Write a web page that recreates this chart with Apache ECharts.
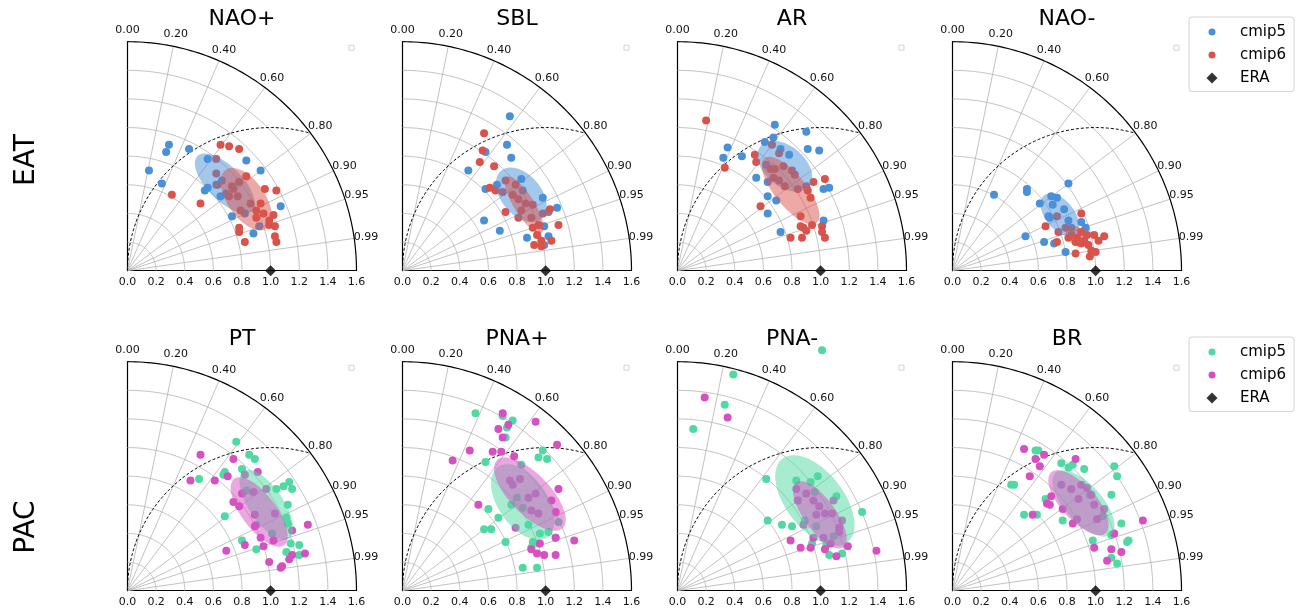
<!DOCTYPE html>
<html><head><meta charset="utf-8">
<script src="https://cdn.jsdelivr.net/npm/echarts@6/dist/echarts.min.js"></script>
<style>html,body{margin:0;padding:0;background:#fff}#c{width:1298px;height:611px}</style>
</head><body><div id="c"></div><script>
const FONT = 'DejaVu Sans';
const PANEL_TITLES = ['NAO+','SBL','AR','NAO-','PT','PNA+','PNA-','BR'];
const ROW_LABELS = ['EAT','PAC'];
const LEGEND_NAMES = ['cmip5','cmip6','ERA'];
const CORR_TICKS = [0,0.2,0.4,0.6,0.8,0.9,0.95,0.99];
const STD_TICKS = [0.2,0.4,0.6,0.8,1.0,1.2,1.4,1.6];
const STD_MAX = 1.6;
const ERA_REF = [1.0, 0.0];
const CORNER_MARK = [1.565, 1.558];

// points in the Taylor plane: [std*corr, std*sqrt(1-corr^2)]
const naoPlus_cmip5 = [[0.29,0.88],[0.27,0.83],[0.43,0.85],[0.15,0.70],[0.24,0.61],[0.56,0.78],[0.83,0.77],[0.93,0.70],[0.66,0.63],[0.62,0.60],[0.56,0.58],[0.54,0.56],[0.69,0.54],[0.65,0.52],[0.73,0.38],[1.07,0.45],[0.88,0.26],[0.92,0.31],[0.82,0.40]];
const naoPlus_cmip6 = [[0.65,0.88],[0.71,0.87],[0.78,0.85],[0.62,0.78],[0.62,0.68],[0.63,0.60],[0.31,0.53],[0.51,0.47],[0.78,0.62],[0.73,0.59],[0.74,0.57],[0.83,0.66],[0.96,0.57],[1.04,0.56],[0.71,0.52],[0.77,0.52],[0.86,0.47],[0.79,0.42],[0.93,0.47],[0.90,0.42],[0.95,0.40],[1.02,0.39],[0.99,0.35],[1.03,0.31],[0.99,0.32],[0.78,0.30],[0.78,0.27],[1.03,0.24],[1.04,0.20],[0.82,0.20],[0.90,0.37]];
const sbl_cmip5 = [[0.75,1.08],[0.73,0.88],[0.58,0.83],[0.76,0.79],[0.46,0.70],[0.83,0.64],[0.58,0.57],[0.66,0.60],[0.98,0.51],[1.08,0.44],[1.02,0.41],[0.57,0.35],[0.68,0.28],[0.87,0.23],[0.99,0.31],[1.02,0.24],[0.99,0.18],[0.84,0.56]];
const sbl_cmip6 = [[0.57,0.96],[0.56,0.84],[0.54,0.76],[0.64,0.73],[0.61,0.58],[0.65,0.56],[0.72,0.63],[0.79,0.60],[0.70,0.55],[0.77,0.53],[0.81,0.50],[0.86,0.47],[0.91,0.46],[0.83,0.42],[0.72,0.41],[0.81,0.37],[0.90,0.37],[1.03,0.43],[0.98,0.40],[1.09,0.32],[0.91,0.30],[0.95,0.32],[0.94,0.25],[0.97,0.21],[0.92,0.18],[0.97,0.17],[1.04,0.21]];
const ar_cmip5 = [[0.68,1.02],[0.90,0.97],[0.67,0.93],[0.61,0.90],[0.35,0.86],[0.32,0.79],[0.45,0.80],[0.91,0.85],[0.99,0.84],[0.78,0.81],[0.72,0.85],[0.62,0.74],[0.55,0.65],[0.63,0.62],[1.02,0.57],[1.06,0.58],[0.63,0.52],[0.69,0.49],[0.63,0.40],[0.72,0.27],[1.02,0.35]];
const ar_cmip6 = [[0.20,1.05],[0.33,0.72],[0.54,0.81],[0.55,0.76],[0.66,0.88],[0.71,0.82],[0.65,0.71],[0.68,0.71],[0.74,0.73],[0.80,0.70],[0.82,0.67],[0.67,0.65],[0.71,0.63],[0.75,0.59],[0.84,0.57],[0.90,0.59],[0.95,0.62],[1.03,0.64],[0.91,0.56],[0.93,0.51],[0.58,0.45],[0.86,0.38],[0.86,0.31],[0.90,0.28],[0.88,0.30],[0.94,0.32],[1.01,0.31],[1.01,0.27],[1.03,0.23],[0.79,0.23],[0.87,0.23]];
const naoMinus_cmip5 = [[0.29,0.53],[0.52,0.57],[0.52,0.55],[0.81,0.61],[0.69,0.52],[0.73,0.51],[0.61,0.47],[0.70,0.46],[0.78,0.43],[0.67,0.38],[0.68,0.37],[0.90,0.34],[0.81,0.35],[0.83,0.30],[0.93,0.30],[0.51,0.24],[0.64,0.20],[0.71,0.19],[0.79,0.13]];
const naoMinus_cmip6 = [[0.90,0.40],[0.73,0.38],[0.65,0.31],[0.79,0.30],[0.74,0.27],[0.73,0.20],[0.83,0.25],[0.81,0.23],[0.87,0.23],[0.90,0.27],[0.94,0.25],[0.99,0.25],[1.06,0.24],[1.02,0.21],[0.92,0.21],[0.86,0.20],[0.90,0.19],[0.95,0.18],[0.97,0.14],[1.00,0.13],[0.86,0.12],[0.96,0.10]];
const pt_cmip5 = [[0.76,1.04],[0.85,0.95],[0.89,0.92],[0.68,0.83],[0.67,0.81],[0.50,0.78],[0.80,0.85],[1.13,0.76],[1.09,0.73],[1.15,0.71],[1.04,0.71],[0.83,0.70],[1.12,0.60],[0.68,0.52],[1.11,0.51],[1.12,0.47],[0.90,0.46],[1.01,0.40],[0.80,0.35],[0.90,0.29],[1.14,0.33],[1.20,0.32],[1.11,0.27],[1.20,0.25]];
const pt_cmip6 = [[0.51,0.95],[0.74,0.92],[0.44,0.77],[0.61,0.77],[0.70,0.80],[0.91,0.83],[0.82,0.81],[0.97,0.71],[0.80,0.68],[0.88,0.69],[0.74,0.62],[0.78,0.59],[0.89,0.53],[1.03,0.54],[0.89,0.45],[1.15,0.42],[1.26,0.46],[0.93,0.37],[1.02,0.35],[0.82,0.32],[0.95,0.31],[0.69,0.28],[1.15,0.25],[1.24,0.26],[1.13,0.22],[0.99,0.20],[1.07,0.16],[1.08,0.17]];
const pnaPlus_cmip5 = [[0.51,1.24],[0.70,1.22],[0.77,1.19],[0.73,1.14],[0.72,1.07],[0.58,0.90],[0.98,0.98],[0.95,0.93],[1.01,0.92],[0.83,0.88],[0.80,0.65],[0.76,0.60],[0.84,0.58],[0.60,0.57],[0.67,0.51],[0.57,0.43],[0.62,0.43],[0.88,0.46],[1.09,0.48],[0.96,0.40],[1.02,0.41],[1.07,0.37],[0.72,0.34],[0.91,0.34],[0.95,0.33],[0.90,0.30],[0.84,0.16],[0.94,0.16]];
const pnaPlus_cmip6 = [[0.70,1.24],[0.74,1.16],[0.67,1.13],[0.70,1.07],[0.93,1.18],[1.08,1.02],[0.47,0.98],[0.63,0.97],[0.69,0.97],[0.35,0.91],[0.78,0.94],[0.75,0.77],[0.77,0.74],[0.82,0.78],[1.09,0.71],[0.93,0.68],[0.88,0.65],[1.04,0.63],[0.53,0.60],[0.90,0.56],[0.95,0.54],[1.07,0.55],[0.79,0.44],[1.20,0.35],[1.07,0.37],[0.96,0.33],[0.90,0.29],[0.94,0.26],[0.99,0.25],[1.07,0.25]];
const pnaMinus_cmip5 = [[1.01,1.68],[0.39,1.51],[0.33,1.30],[0.11,1.13],[0.62,0.78],[0.83,0.77],[0.93,0.76],[0.98,0.80],[0.96,0.69],[1.11,0.66],[1.29,0.55],[0.63,0.49],[0.73,0.46],[0.80,0.45],[0.89,0.49],[0.97,0.45],[1.09,0.38],[0.94,0.33],[1.04,0.32],[1.06,0.25],[1.15,0.26]];
const pnaMinus_cmip6 = [[0.19,1.35],[0.35,1.21],[0.83,0.71],[0.90,0.68],[0.84,0.63],[0.95,0.63],[0.99,0.59],[1.09,0.63],[1.03,0.54],[1.08,0.54],[0.97,0.53],[0.88,0.46],[1.15,0.49],[1.13,0.44],[1.13,0.41],[0.95,0.37],[1.02,0.37],[1.07,0.33],[0.79,0.35],[0.86,0.30],[0.93,0.30],[1.03,0.29],[1.11,0.24],[1.19,0.31],[1.39,0.28]];
const br_cmip5 = [[0.58,0.98],[0.60,0.98],[0.41,0.74],[0.43,0.74],[0.76,0.89],[0.81,0.86],[0.84,0.88],[0.92,0.85],[1.13,0.87],[1.15,0.80],[1.11,0.67],[0.96,0.67],[0.65,0.64],[0.50,0.53],[0.59,0.53],[0.77,0.49],[1.05,0.52],[1.18,0.47],[1.22,0.34],[1.23,0.35],[1.11,0.39],[0.98,0.35],[1.11,0.23],[1.15,0.19]];
const br_cmip6 = [[0.50,0.99],[0.58,0.92],[0.64,0.95],[0.61,0.87],[0.54,0.80],[0.86,0.92],[0.76,0.74],[0.83,0.71],[0.90,0.74],[0.94,0.72],[0.97,0.67],[0.69,0.66],[0.66,0.61],[0.68,0.60],[0.56,0.53],[0.77,0.57],[0.88,0.64],[0.99,0.60],[1.06,0.57],[1.01,0.50],[0.84,0.47],[0.87,0.50],[1.33,0.49],[1.13,0.40],[0.99,0.30],[1.11,0.29],[1.18,0.27],[1.08,0.21]];

// spread ellipses: [centre x, centre y, semi-major, semi-minor, angle deg]
const naoPlus_ell5 = [0.68,0.61,0.27,0.12,-45];
const naoPlus_ell6 = [0.83,0.50,0.25,0.13,-55];
const sbl_ell5 = [0.83,0.53,0.22,0.14,-50];
const sbl_ell6 = [0.85,0.46,0.23,0.07,-58];
const ar_ell5 = [0.75,0.73,0.22,0.14,-40];
const ar_ell6 = [0.79,0.56,0.29,0.11,-51];
const naoMinus_ell5 = [0.75,0.39,0.175,0.10,-51];
const naoMinus_ell6 = [0.87,0.24,0.09,0.06,-40];
const pt_ell5 = [0.97,0.60,0.285,0.12,-56];
const pt_ell6 = [0.92,0.55,0.29,0.12,-53];
const pnaPlus_ell5 = [0.84,0.62,0.30,0.17,-55];
const pnaPlus_ell6 = [0.89,0.675,0.33,0.14,-46];
const pnaMinus_ell5 = [0.96,0.63,0.37,0.20,-52];
const pnaMinus_ell6 = [0.995,0.53,0.28,0.11,-54];
const br_ell5 = [0.915,0.61,0.29,0.13,-48];
const br_ell6 = [0.88,0.615,0.285,0.12,-48];

const PANELS = [
  [naoPlus_cmip5, naoPlus_cmip6, naoPlus_ell5, naoPlus_ell6],
  [sbl_cmip5, sbl_cmip6, sbl_ell5, sbl_ell6],
  [ar_cmip5, ar_cmip6, ar_ell5, ar_ell6],
  [naoMinus_cmip5, naoMinus_cmip6, naoMinus_ell5, naoMinus_ell6],
  [pt_cmip5, pt_cmip6, pt_ell5, pt_ell6],
  [pnaPlus_cmip5, pnaPlus_cmip6, pnaPlus_ell5, pnaPlus_ell6],
  [pnaMinus_cmip5, pnaMinus_cmip6, pnaMinus_ell5, pnaMinus_ell6],
  [br_cmip5, br_cmip6, br_ell5, br_ell6]
];
const ROW_COLORS = [['#4a90d9','#d9534b'],['#50d9a3','#d650c1']];

const GRID_LEFT0 = 127.5, GRID_DX = 275, GRID_TOP0 = 41.7, GRID_DY = 320, GRID_SIZE = 229;
const GRAY = '#b3b3b3';

function renderFrame(params, api) {
  const children = [];
  const p0 = api.coord([0, 0]);
  STD_TICKS.forEach(r => {
    const pts = [];
    for (let k = 0; k <= 90; k++) {
      const t = Math.PI / 2 * k / 90;
      pts.push(api.coord([r * Math.cos(t), r * Math.sin(t)]));
    }
    const outer = Math.abs(r - STD_MAX) < 1e-9;
    children.push({type:'polyline', shape:{points:pts}, style:{stroke: outer ? '#000' : GRAY, lineWidth: outer ? 1.2 : 0.8, fill:null}, z2: outer ? 4 : 1});
  });
  CORR_TICKS.forEach(c => {
    const s = Math.sqrt(1 - c * c);
    const p1 = api.coord([STD_MAX * c, STD_MAX * s]);
    if (c > 0) children.push({type:'line', shape:{x1:p0[0], y1:p0[1], x2:p1[0], y2:p1[1]}, style:{stroke:GRAY, lineWidth:0.8}, z2:1});
    children.push({type:'text', z2:6, style:{text:c.toFixed(2), x:p1[0] + 12 * c, y:p1[1] - 12 * s, fill:'#111', fontSize:11, fontFamily:FONT, align:'center', verticalAlign:'middle', textAlign:'center', textVerticalAlign:'middle'}});
  });
  const R = ERA_REF[0];
  const xEnd = STD_MAX * STD_MAX / (2 * R);
  const phiEnd = Math.acos((xEnd - R) / R);
  const pts = [];
  for (let k = 0; k <= 120; k++) {
    const phi = Math.PI - (Math.PI - phiEnd) * k / 120;
    pts.push(api.coord([R + R * Math.cos(phi), R * Math.sin(phi)]));
  }
  children.push({type:'polyline', shape:{points:pts}, style:{stroke:'#000', lineWidth:1, lineDash:[3,2], fill:null}, z2:3});
  return {type:'group', children};
}

function makeEllipseRenderer(color) {
  return function (params, api) {
    const cx = api.value(0), cy = api.value(1), a = api.value(2), b = api.value(3), ang = api.value(4) * Math.PI / 180;
    const pts = [];
    for (let k = 0; k < 96; k++) {
      const t = 2 * Math.PI * k / 96;
      const ex = a * Math.cos(t), ey = b * Math.sin(t);
      pts.push(api.coord([cx + ex * Math.cos(ang) - ey * Math.sin(ang), cy + ex * Math.sin(ang) + ey * Math.cos(ang)]));
    }
    return {type:'polygon', shape:{points:pts}, style:{fill:color, opacity:0.5, stroke:null}};
  };
}

const grids = [], xAxes = [], yAxes = [], series = [], titles = [];
PANELS.forEach((p, i) => {
  const row = Math.floor(i / 4), col = i % 4;
  const left = GRID_LEFT0 + col * GRID_DX, top = GRID_TOP0 + row * GRID_DY;
  grids.push({left, top, width: GRID_SIZE, height: GRID_SIZE});
  xAxes.push({gridIndex:i, type:'value', min:0, max:STD_MAX, interval:0.2,
    axisLine:{show:true, onZero:false, lineStyle:{color:'#000', width:1.2}}, axisTick:{show:false}, splitLine:{show:false},
    axisLabel:{formatter: v => v.toFixed(1), fontSize:11, color:'#111', margin:6, fontFamily:FONT, showMinLabel:true, showMaxLabel:true}});
  yAxes.push({gridIndex:i, type:'value', min:0, max:STD_MAX, interval:0.2,
    axisLine:{show:true, onZero:false, lineStyle:{color:'#000', width:1.2}}, axisTick:{show:false}, splitLine:{show:false}, axisLabel:{show:false}});
  titles.push({text: PANEL_TITLES[i], left: left + GRID_SIZE / 2, top: 8 + row * GRID_DY, textAlign:'center', padding:0,
    textStyle:{fontSize:22, fontWeight:'normal', color:'#000', fontFamily:FONT}});
  const cols = ROW_COLORS[row];
  const common = {xAxisIndex:i, yAxisIndex:i, silent:true};
  series.push(Object.assign({type:'custom', name:'frame' + i, data:[[0,0]], renderItem:renderFrame, z:1, clip:false}, common));
  series.push(Object.assign({type:'scatter', name:'cmip5', data:p[0], symbolSize:8, itemStyle:{color:cols[0], opacity:1}, z:2, clip:false}, common));
  series.push(Object.assign({type:'scatter', name:'cmip6', data:p[1], symbolSize:8, itemStyle:{color:cols[1], opacity:1}, z:2, clip:false}, common));
  series.push(Object.assign({type:'scatter', name:'corner' + i, data:[CORNER_MARK], symbol:'rect', symbolSize:5, itemStyle:{color:'#fff', borderColor:'#c8c8c8', borderWidth:1}, z:2, clip:false}, common));
  series.push(Object.assign({type:'custom', name:'ell5_' + i, data:[p[2]], renderItem:makeEllipseRenderer(cols[0]), z:3, clip:false}, common));
  series.push(Object.assign({type:'custom', name:'ell6_' + i, data:[p[3]], renderItem:makeEllipseRenderer(cols[1]), z:3, clip:false}, common));
  series.push(Object.assign({type:'scatter', name:'ERA', data:[ERA_REF], symbol:'diamond', symbolSize:11, itemStyle:{color:'#000'}, z:5, clip:false}, common));
});

// legend icons: 46x11 boxes with the glyph centred
const DOT = 'path://M0,0M46,11M26.5,5.5A3.5,3.5,0,1,1,19.5,5.5A3.5,3.5,0,1,1,26.5,5.5Z';
const DIAMOND = 'path://M0,0M46,11M23,0L28.5,5.5L23,11L17.5,5.5Z';
const legends = [0, 1].map(r => ({
  orient:'vertical', left:1189, top: 17 + r * GRID_DY,
  padding:[7.5, 8, 6, 0], itemWidth:46, itemHeight:11, itemGap:8,
  backgroundColor:'#fff', borderColor:'#d4d4d4', borderWidth:1, borderRadius:3,
  selectedMode:false,
  textStyle:{fontSize:15, color:'#000', fontFamily:FONT},
  data:[
    {name:LEGEND_NAMES[0], icon:DOT, itemStyle:{color:ROW_COLORS[r][0]}},
    {name:LEGEND_NAMES[1], icon:DOT, itemStyle:{color:ROW_COLORS[r][1]}},
    {name:LEGEND_NAMES[2], icon:DIAMOND, itemStyle:{color:'#000'}}
  ]
}));

const ROW_LABEL_Y = [160, 527];
const rowLabelGraphics = ROW_LABELS.map((t, r) => ({
  type:'text', x:27, y:ROW_LABEL_Y[r], rotation:Math.PI / 2,
  style:{text:t, fontSize:28, fontFamily:FONT, fill:'#000', align:'center', verticalAlign:'middle', textAlign:'center', textVerticalAlign:'middle'}
}));

const chart = echarts.init(document.getElementById('c'), null, {renderer:'canvas'});
chart.setOption({
  animation:false,
  backgroundColor:'#fff',
  title:titles,
  grid:grids, xAxis:xAxes, yAxis:yAxes,
  legend:legends,
  graphic:rowLabelGraphics,
  series
});
</script></body></html>
